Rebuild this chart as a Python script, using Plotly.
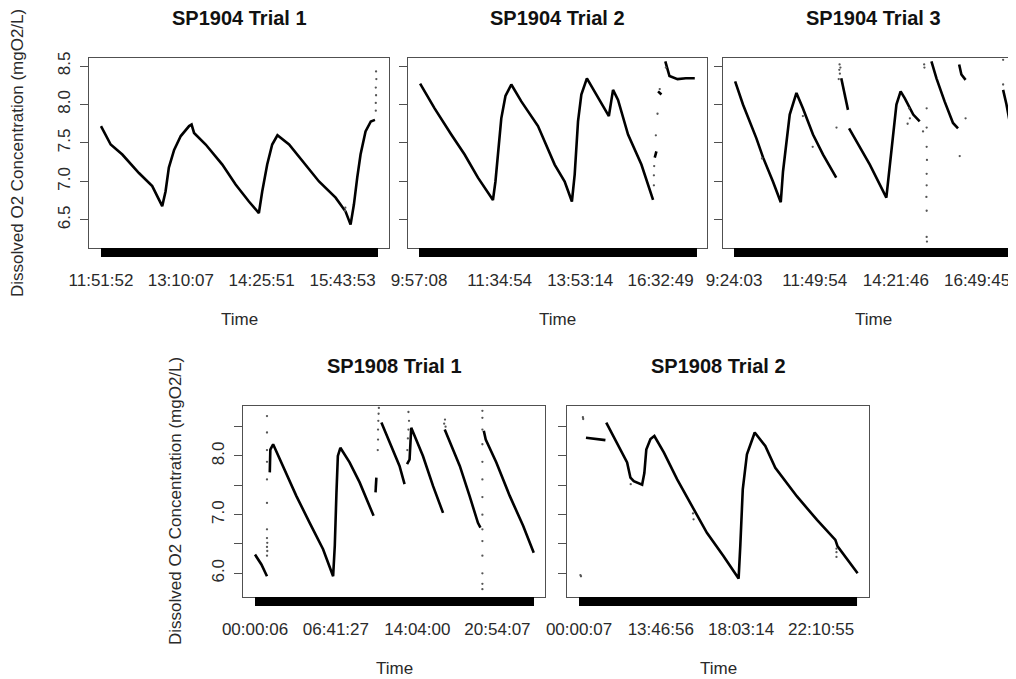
import plotly.graph_objects as go

# ---------------- data (reading index 0..1000 along each trial, DO in mg/L) -------------
titles = ["SP1904 Trial 1", "SP1904 Trial 2", "SP1904 Trial 3", "SP1908 Trial 1", "SP1908 Trial 2"]
n_readings = [1000, 1000, 1000, 1000, 1000]

tick_pos_1 = [0, 288, 580, 872]
tick_lab_1 = ["11:51:52", "13:10:07", "14:25:51", "15:43:53"]
tick_pos_2 = [0, 290, 580, 869]
tick_lab_2 = ["9:57:08", "11:34:54", "13:53:14", "16:32:49"]
tick_pos_3 = [0, 288, 578, 868]
tick_lab_3 = ["9:24:03", "11:49:54", "14:21:46", "16:49:45"]
tick_pos_4 = [0, 290, 582, 869]
tick_lab_4 = ["00:00:06", "06:41:27", "14:04:00", "20:54:07"]
tick_pos_5 = [0, 294, 583, 871]
tick_lab_5 = ["00:00:07", "13:46:56", "18:03:14", "22:10:55"]

# SP1904 Trial 1
p1_x = [0, 35, 77, 137, 185, 221, 233, 245, 264, 288, 318, 327, 336, 378, 438, 486, 534, 570,
        582, 600, 618, 637, 679, 727, 787, 847, 883, 901, 913, 925, 937, 955, 974, 989]
p1_y = [7.72, 7.48, 7.35, 7.11, 6.94, 6.68, 6.87, 7.18, 7.41, 7.59, 7.72, 7.74, 7.63, 7.48, 7.22,
        6.96, 6.74, 6.59, 6.87, 7.22, 7.48, 7.60, 7.48, 7.26, 7.00, 6.79, 6.61, 6.44, 6.70, 7.05,
        7.35, 7.65, 7.78, 7.80]
p1_sx = [992, 992, 993, 992, 994, 993, 881, 882]
p1_sy = [7.92, 8.02, 8.12, 8.22, 8.33, 8.43, 6.62, 6.66]

# SP1904 Trial 2
p2_x = [4, 56, 116, 164, 212, 266, 275, 284, 296, 311, 332, 368, 428, 488, 524, 550, 560, 572, 584,
        604, 638, 683, 698, 716, 752, 800, 842, None, 848, 854, None, 860, 872, None,
        886, 901, 930, 960, 992]
p2_y = [8.27, 7.95, 7.61, 7.35, 7.05, 6.76, 7.00, 7.39, 7.82, 8.11, 8.26, 8.04, 7.72, 7.22, 7.00,
        6.74, 7.09, 7.78, 8.13, 8.34, 8.13, 7.85, 8.19, 8.06, 7.61, 7.22, 6.76, None, 7.31, 7.39,
        None, 8.17, 8.13, None, 8.56, 8.37, 8.33, 8.34, 8.34]
p2_sx = [845, 845, 846, 858, 866, 852, 888]
p2_sy = [6.95, 7.08, 7.20, 7.88, 8.20, 7.60, 8.48]

# SP1904 Trial 3
p3_x = [4, 32, 80, 104, 139, 163, 167, 175, 187, 199, 223, 246, 282, 318, 365, None,
        383, 407, None,
        411, 437, 485, 544, 556, 568, 580, 595, 610, 640, 663, None,
        705, 723, 752, 782, 800, None,
        804, 812, 827, None, 961, 973, 994]
p3_y = [8.30, 8.00, 7.56, 7.31, 7.00, 6.79, 6.73, 7.13, 7.52, 7.87, 8.15, 7.95, 7.61, 7.35, 7.05,
        None, 8.34, 7.93, None,
        7.69, 7.52, 7.22, 6.79, 7.18, 7.61, 8.00, 8.17, 8.08, 7.87, 7.78, None,
        8.56, 8.34, 8.04, 7.76, 7.69, None,
        8.52, 8.39, 8.32, None, 8.19, 8.00, 7.59]
p3_sx = [377, 376, 378, 374, 380, 366, 688, 688, 688, 689, 688, 688, 687, 688, 688, 689, 675,
         679, 680, 806, 827, 961, 961, 625, 628, 620, 100, 246, 281]
p3_sy = [8.52, 8.45, 8.40, 8.33, 8.48, 7.70, 7.95, 7.70, 7.45, 7.28, 7.10, 6.95, 6.80, 6.62,
         6.28, 6.22, 7.65, 8.52, 8.48, 7.33, 7.82, 8.58, 8.26, 7.95, 7.82, 7.75, 7.30, 7.85, 7.45]

# SP1908 Trial 1
p4_x = [0, 23, 43, None,
        53, 55, 65, 100, 148, 196, 244, 280, 286, 292, 297, 306, 339, 375, 425, None,
        432, 435, None, 453, 483, 518, 536, None,
        545, 554, 560, 602, 638, 674, None,
        680, 692, 734, 769, 793, 799, 808, None,
        820, 827, 865, 913, 961, 999]
p4_y = [6.32, 6.15, 5.95, None,
        7.72, 8.11, 8.20, 7.83, 7.32, 6.86, 6.41, 5.95, 6.47, 7.38, 8.00, 8.14, 7.89, 7.55, 6.98, None,
        7.38, 7.63, None, 8.57, 8.23, 7.83, 7.52, None,
        7.86, 7.94, 8.48, 8.00, 7.49, 7.03, None,
        8.45, 8.31, 7.83, 7.32, 6.98, 6.86, 6.78, None,
        8.43, 8.28, 7.89, 7.32, 6.81, 6.35]
p4_sx = [43, 43, 43, 43, 43, 43, 43, 43, 43, 43, 44, 44,
         441, 441, 442, 443, 444, 440,
         546, 548, 550, 552, 550,
         678, 681, 683,
         815, 815, 815, 815, 815, 815, 815, 815, 815, 815, 815, 815, 815, 815]
p4_sy = [6.30, 6.45, 6.60, 6.75, 7.20, 7.60, 7.90, 8.10, 8.40, 8.68, 6.38, 6.52,
         8.28, 8.45, 8.60, 8.72, 8.82, 8.10,
         8.10, 8.30, 8.45, 8.60, 8.75,
         8.55, 8.62, 8.50,
         5.73, 5.82, 6.00, 6.30, 6.55, 6.75, 7.00, 7.30, 7.60, 7.90, 8.20, 8.45, 8.65, 8.77]

# SP1908 Trial 2
p5_x = [25, 53, 95, None,
        98, 137, 173, 185, 197, 227, 235, 242, 257, 271, 305, 353, 412, 460, 520, 574, 580, 589,
        604, 619, 632, 670, 706, 784, 856, 922, 925, 930, 1002]
p5_y = [8.31, 8.29, 8.27, None,
        8.57, 8.23, 7.89, 7.63, 7.57, 7.51, 7.71, 8.11, 8.29, 8.34, 8.06, 7.60, 7.09, 6.69, 6.29,
        5.91, 6.46, 7.43, 8.03, 8.23, 8.40, 8.17, 7.80, 7.31, 6.91, 6.57, 6.54, 6.46, 6.00]
p5_sx = [5, 7, 14, 15, 926, 926, 926, 410, 412, 186]
p5_sy = [5.97, 5.95, 8.66, 8.63, 6.28, 6.36, 6.42, 7.02, 6.92, 7.52]

lines_x = [p1_x, p2_x, p3_x, p4_x, p5_x]
lines_y = [p1_y, p2_y, p3_y, p4_y, p5_y]
pts_x = [p1_sx, p2_sx, p3_sx, p4_sx, p5_sx]
pts_y = [p1_sy, p2_sy, p3_sy, p4_sy, p5_sy]
tick_pos = [tick_pos_1, tick_pos_2, tick_pos_3, tick_pos_4, tick_pos_5]
tick_lab = [tick_lab_1, tick_lab_2, tick_lab_3, tick_lab_4, tick_lab_5]

top_ticks = [6.5, 7.0, 7.5, 8.0, 8.5]
top_tick_text = ["6.5", "7.0", "7.5", "8.0", "8.5"]
bot_ticks = [6.0, 6.5, 7.0, 7.5, 8.0, 8.5]
bot_tick_text = ["6.0", "", "7.0", "", "8.0", ""]

# ---------------- layout geometry ----------------
# target pixel positions on the 1016x679 page; the page body adds an 8px offset
OFF = 8
W, H = 1016 - OFF, 679 - OFF
box_x = [(89, 389), (408, 707), (723, 1016), (243, 545), (567, 869)]
box_y = [(58, 248), (58, 248), (58, 248), (406, 597), (406, 597)]
x_ranges = [(-43.3, 1039.7), (-39.6, 1036), (-39.3, 1007), (-43, 1039.4), (-43.2, 1043)]
y_ranges = [(6.136, 8.604)] * 3 + [(5.596, 8.852)] * 2


def px(v):
    return (v - OFF) / W


def py(v):
    return 1 - (v - OFF) / H


FONT = "Liberation Sans, Arial, sans-serif"
TXT = "#2a2a2a"
BOX = "#505050"

fig = go.Figure()
layout = dict(width=W, height=H, margin=dict(l=0, r=0, t=0, b=0, autoexpand=False),
              paper_bgcolor="white", plot_bgcolor="white", showlegend=False,
              font=dict(family=FONT, color=TXT, size=17))
shapes = []
annotations = []

for i in range(5):
    k = "" if i == 0 else str(i + 1)
    xa, ya = "x" + k, "y" + k
    fig.add_trace(go.Scatter(x=lines_x[i], y=lines_y[i], xaxis=xa, yaxis=ya, mode="lines",
                             line=dict(color="black", width=2.6), connectgaps=False,
                             hoverinfo="skip"))
    fig.add_trace(go.Scatter(x=pts_x[i], y=pts_y[i], xaxis=xa, yaxis=ya, mode="markers",
                             marker=dict(color="#555", size=2.3), hoverinfo="skip"))
    x0, x1 = box_x[i]
    y0, y1 = box_y[i]
    top = i < 3
    layout["xaxis" + k] = dict(
        domain=[px(x0), min(1.0, px(x1))], range=list(x_ranges[i]), anchor=ya, automargin=False,
        showgrid=False, zeroline=False, showline=True, mirror=True, linecolor=BOX, linewidth=1,
        tickmode="array", tickvals=tick_pos[i], ticktext=tick_lab[i], ticks="",
        ticklabelstandoff=17, tickfont=dict(size=17, color=TXT, family=FONT))
    layout["yaxis" + k] = dict(
        domain=[py(y1), py(y0)], range=list(y_ranges[i]), anchor=xa, automargin=False,
        showgrid=False, zeroline=False, showline=True, mirror=True, linecolor=BOX, linewidth=1,
        tickmode="array", tickvals=top_ticks if top else bot_ticks,
        ticktext=top_tick_text if top else bot_tick_text,
        ticks="outside", ticklen=8, tickcolor=BOX, tickwidth=1, tickangle=-90,
        showticklabels=(i in (0, 3)), ticklabelstandoff=3,
        tickfont=dict(size=17, color=TXT, family=FONT))
    # the dense per-reading tick marks along the axis appear as one solid bar
    shapes.append(dict(type="rect", xref=xa, yref=ya + " domain", x0=0, x1=n_readings[i],
                       y0=-9.0 / (y1 - y0), y1=0, fillcolor="black", line=dict(width=0),
                       layer="above"))
    cx = (x0 + x1) / 2 if i != 2 else (723 + 1023) / 2
    annotations.append(dict(text="<b>" + titles[i] + "</b>", xref="paper", yref="paper",
                            x=px(cx), y=py(y0 - 40), showarrow=False,
                            font=dict(size=20, color="#111", family=FONT),
                            xanchor="center", yanchor="middle"))
    annotations.append(dict(text="Time", xref="paper", yref="paper",
                            x=px(cx), y=py(y1 + 71), showarrow=False,
                            font=dict(size=17, color=TXT, family=FONT),
                            xanchor="center", yanchor="middle"))

for (tx, ty) in [(18, 153), (175, 501)]:
    annotations.append(dict(text="Dissolved O2 Concentration (mgO2/L)", xref="paper", yref="paper",
                            x=px(tx), y=py(ty), showarrow=False, textangle=-90,
                            font=dict(size=17, color=TXT, family=FONT),
                            xanchor="center", yanchor="middle"))

layout["shapes"] = shapes
layout["annotations"] = annotations
fig.update_layout(**layout)
fig.write_html("out.html")
